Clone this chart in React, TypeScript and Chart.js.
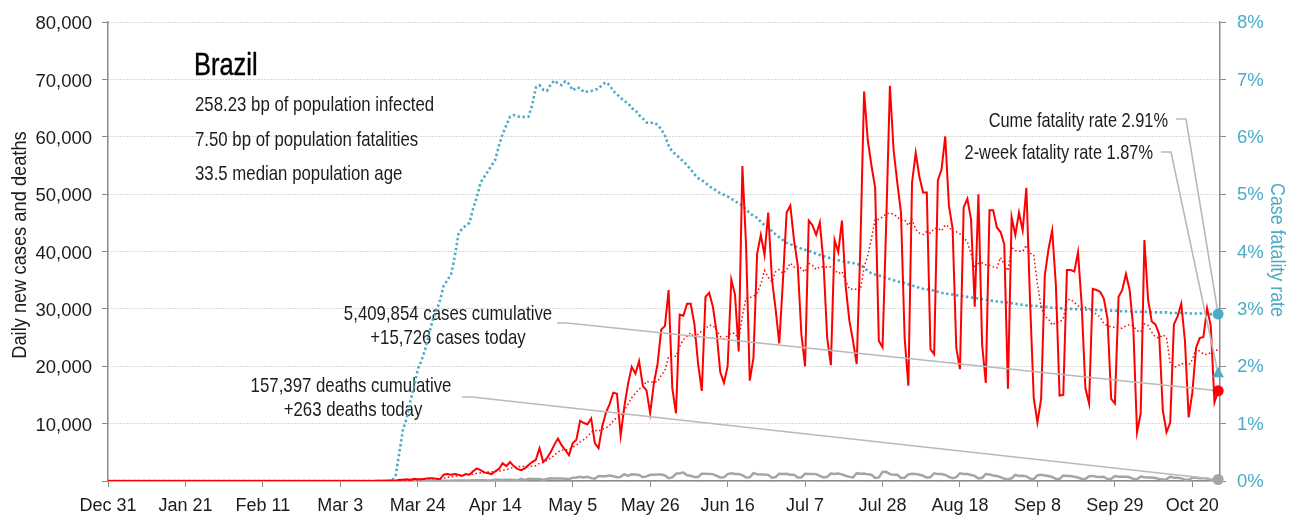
import React, { useEffect, useRef } from 'react';
import { Chart, registerables } from 'chart.js';

Chart.register(...registerables);

const FONT = "'Liberation Sans', Arial, sans-serif";
const RED = '#ff0000';
const CYAN = '#4bacc6';
const GRAY = '#a5a5a5';
const AXIS = '#8a8a8a';
const TEXT = '#1c1c1c';
const LEADER = '#b9b9b9';

// ---- data (day index 0 = Dec 31) ----
const xTickDays = [0, 21, 42, 63, 84, 105, 126, 147, 168, 189, 210, 231, 252, 273, 294];
const xTickLabels = ['Dec 31', 'Jan 21', 'Feb 11', 'Mar 3', 'Mar 24', 'Apr 14', 'May 5', 'May 26', 'Jun 16', 'Jul 7', 'Jul 28', 'Aug 18', 'Sep 8', 'Sep 29', 'Oct 20'];
const lastDay = 301;

// daily new cases, thousands
const dailyCasesK = [
  0, 0, 0, 0, 0, 0, 0, 0, 0, 0,
  0, 0, 0, 0, 0, 0, 0, 0, 0, 0,
  0, 0, 0, 0, 0, 0, 0, 0, 0, 0,
  0, 0, 0, 0, 0, 0, 0, 0, 0, 0,
  0, 0, 0, 0, 0, 0, 0, 0, 0, 0,
  0, 0, 0, 0, 0, 0, 0, 0, 0, 0,
  0, 0, 0, 0, 0, 0, 0, 0, 0, 0,
  0,
  0.01, 0.02, 0.03, 0.04, 0.05, 0.08, 0.10,
  0.06, 0.2, 0.2, 0.3, 0.2, 0.4, 0.3,
  0.3, 0.4, 0.5, 0.5, 0.4, 0.3, 1.1,
  1.2, 1.1, 1.2, 1.1, 0.9, 1.2, 1.1,
  1.7, 2.2, 1.9, 1.5, 1.4, 1.2, 1.7,
  2.1, 3.1, 2.6, 3.3, 2.6, 2.1, 1.9,
  2.2, 2.8, 3.3, 3.7, 5.7, 3.3, 4.0,
  5.0, 6.3, 7.4, 6.2, 5.4, 4.5, 6.6,
  7.2, 10.5, 10.1, 9.9, 10.9, 6.6, 5.7,
  9.5, 11.9, 13.4, 15.4, 15.2, 7.9, 13.0,
  16.9, 19.9, 18.7, 20.9, 16.6, 15.8, 11.8,
  17.0, 20.4, 26.4, 27.0, 33.3, 16.2, 11.8,
  29.0, 28.8, 30.9, 30.9, 27.3, 20.4, 15.7,
  32.1, 32.8, 30.4, 26.0, 19.0, 17.1, 20.0,
  35.1, 32.5, 22.6, 54.9, 41.1, 17.5, 21.4,
  39.6, 42.9, 39.4, 46.8, 35.3, 30.0, 24.0,
  35.0, 46.8, 48.0, 42.0, 37.7, 25.6, 20.0,
  45.4, 44.6, 42.9, 45.1, 38.0, 24.9, 20.2,
  42.0, 39.9, 45.4, 34.0, 28.0, 24.4, 20.4,
  41.0, 67.9, 59.4, 55.0, 51.1, 24.4, 23.3,
  45.0, 68.9, 57.7, 52.0, 46.8, 24.9, 16.6,
  52.0, 57.2, 53.0, 50.3, 50.3, 23.0, 22.1,
  52.4, 54.3, 60.1, 48.0, 44.0, 23.2, 19.5,
  47.7, 49.2, 45.6, 30.4, 50.0, 23.8, 17.1,
  47.2, 47.2, 44.2, 43.4, 41.3, 16.1, 46.0,
  42.9, 46.8, 43.7, 51.1, 31.3, 14.5, 10.2,
  14.3, 35.9, 40.4, 43.7, 34.2, 14.9, 15.0,
  36.8, 36.8, 36.5, 39.9, 30.7, 16.2, 13.5,
  33.5, 33.3, 33.0, 31.8, 28.3, 14.3, 13.5,
  32.1, 33.3, 36.1, 33.3, 26.6, 8.5, 11.8,
  42.0, 31.6, 27.8, 27.3, 25.6, 12.3, 8.5,
  10.2, 27.3, 28.7, 30.9, 24.4, 11.1, 15.4,
  23.2, 24.9, 25.1, 30.1, 27.0, 13.7, 15.726,
];

// daily new deaths, thousands
const dailyDeathsK = [
  0, 0, 0, 0, 0, 0, 0, 0, 0, 0,
  0, 0, 0, 0, 0, 0, 0, 0, 0, 0,
  0, 0, 0, 0, 0, 0, 0, 0, 0, 0,
  0, 0, 0, 0, 0, 0, 0, 0, 0, 0,
  0, 0, 0, 0, 0, 0, 0, 0, 0, 0,
  0, 0, 0, 0, 0, 0, 0, 0, 0, 0,
  0, 0, 0, 0, 0, 0, 0, 0, 0, 0,
  0, 0, 0, 0, 0, 0, 0, 0,
  0.001, 0.003, 0.004, 0.007, 0.007, 0.011, 0.009,
  0.012, 0.019, 0.025, 0.023, 0.022, 0.025, 0.042,
  0.040, 0.058, 0.072, 0.070, 0.080, 0.070, 0.090,
  0.130, 0.130, 0.140, 0.120, 0.100, 0.120, 0.200,
  0.200, 0.190, 0.220, 0.210, 0.190, 0.120, 0.380,
  0.160, 0.400, 0.360, 0.360, 0.350, 0.190, 0.340,
  0.470, 0.450, 0.430, 0.430, 0.390, 0.330, 0.580,
  0.600, 0.750, 0.620, 0.730, 0.500, 0.400, 0.880,
  0.810, 0.820, 0.970, 0.820, 0.650, 0.720, 1.180,
  0.890, 1.190, 1.150, 1.040, 0.650, 0.810, 1.080,
  1.100, 1.130, 1.120, 0.960, 0.480, 0.620, 1.260,
  1.350, 1.470, 1.000, 0.900, 0.680, 0.680, 1.270,
  1.280, 1.240, 1.200, 0.900, 0.610, 0.630, 1.200,
  1.340, 1.210, 1.200, 1.020, 0.600, 0.650, 1.370,
  1.180, 1.140, 1.130, 1.070, 0.580, 0.690, 1.280,
  1.240, 1.270, 1.090, 1.070, 0.600, 0.620, 1.250,
  1.220, 1.220, 1.200, 0.890, 0.630, 0.730, 1.300,
  1.230, 1.320, 1.160, 0.920, 0.720, 0.630, 1.370,
  1.280, 1.310, 1.160, 1.100, 0.550, 0.630, 1.590,
  1.600, 1.200, 1.090, 1.090, 0.540, 0.560, 1.150,
  1.250, 1.240, 1.080, 0.910, 0.580, 0.680, 1.350,
  1.200, 1.200, 1.060, 0.710, 0.490, 0.680, 1.350,
  1.210, 1.200, 1.040, 0.890, 0.430, 0.550, 1.220,
  1.130, 0.970, 0.860, 0.680, 0.380, 0.310, 0.470,
  1.080, 0.890, 0.900, 0.810, 0.410, 0.320, 0.980,
  1.100, 0.950, 0.860, 0.700, 0.380, 0.370, 0.960,
  0.860, 0.860, 0.740, 0.610, 0.360, 0.340, 0.830,
  0.890, 0.730, 0.700, 0.730, 0.310, 0.380, 0.860,
  0.740, 0.730, 0.720, 0.650, 0.340, 0.300, 0.780,
  0.670, 0.630, 0.590, 0.510, 0.340, 0.260, 0.310,
  0.750, 0.560, 0.560, 0.460, 0.230, 0.200, 0.570,
  0.570, 0.500, 0.500, 0.430, 0.200, 0.230, 0.263,
];

// cumulative case fatality rate, percent
const caseFatalityPct = [
  0, 0, 0, 0, 0, 0, 0, 0, 0, 0,
  0, 0, 0, 0, 0, 0, 0, 0, 0, 0,
  0, 0, 0, 0, 0, 0, 0, 0, 0, 0,
  0, 0, 0, 0, 0, 0, 0, 0, 0, 0,
  0, 0, 0, 0, 0, 0, 0, 0, 0, 0,
  0, 0, 0, 0, 0, 0, 0, 0, 0, 0,
  0, 0, 0, 0, 0, 0, 0, 0, 0, 0,
  0, 0, 0, 0, 0, 0, 0, 0,
  0.1, 0.5, 0.9, 1.1, 1.4, 1.65, 1.95,
  2.1, 2.3, 2.55, 2.8, 2.95, 3.15, 3.4,
  3.5, 3.6, 3.9, 4.3, 4.4, 4.45, 4.5,
  4.75, 4.95, 5.2, 5.3, 5.4, 5.5, 5.6,
  5.85, 6.05, 6.2, 6.35, 6.38, 6.36, 6.34,
  6.35, 6.35, 6.55, 6.86, 6.9, 6.82, 6.8,
  6.91, 6.98, 6.93, 6.9, 6.97, 6.92, 6.81,
  6.86, 6.85, 6.78, 6.79, 6.8, 6.82, 6.84,
  6.91, 6.95, 6.9, 6.8, 6.74, 6.68, 6.62,
  6.59, 6.5, 6.46, 6.38, 6.32, 6.25, 6.24,
  6.25, 6.21, 6.13, 6.02, 5.85, 5.74, 5.69,
  5.63, 5.57, 5.51, 5.43, 5.35, 5.28, 5.24,
  5.2, 5.14, 5.1, 5.06, 5.02, 4.99, 4.96,
  4.92, 4.88, 4.84, 4.8, 4.73, 4.67, 4.62,
  4.59, 4.52, 4.46, 4.4, 4.36, 4.3, 4.25,
  4.2, 4.15, 4.13, 4.1, 4.07, 4.05, 4.03,
  4.01, 3.99, 3.96, 3.94, 3.92, 3.9, 3.88,
  3.86, 3.85, 3.83, 3.82, 3.81, 3.8, 3.78,
  3.77, 3.72, 3.66, 3.62, 3.6, 3.58, 3.57,
  3.55, 3.52, 3.5, 3.48, 3.46, 3.45, 3.43,
  3.41, 3.39, 3.37, 3.35, 3.34, 3.33, 3.32,
  3.3, 3.28, 3.27, 3.26, 3.25, 3.24, 3.23,
  3.22, 3.21, 3.2, 3.19, 3.18, 3.17, 3.16,
  3.15, 3.14, 3.13, 3.12, 3.12, 3.11, 3.1,
  3.09, 3.08, 3.07, 3.06, 3.06, 3.05, 3.05,
  3.04, 3.04, 3.03, 3.02, 3.02, 3.01, 3.01,
  3.0, 3.0, 3.0, 2.99, 2.99, 2.99, 2.98,
  2.98, 2.98, 2.98, 2.97, 2.97, 2.97, 2.97,
  2.96, 2.96, 2.96, 2.96, 2.95, 2.95, 2.95,
  2.95, 2.95, 2.94, 2.94, 2.94, 2.94, 2.94,
  2.93, 2.93, 2.93, 2.93, 2.93, 2.92, 2.92,
  2.92, 2.92, 2.92, 2.91, 2.91, 2.91, 2.91,
];

const countryName = 'Brazil';
const infoLines = ['258.23 bp of population infected', '7.50 bp of population fatalities', '33.5 median population age'];
const cumulativeCases = 5409854;
const casesToday = 15726;
const cumulativeDeaths = 157397;
const deathsToday = 263;
const cumeFatalityRate = 2.91;
const twoWeekFatalityRate = 1.87;

function trailingMean(values: number[], windowSize: number): number[] {
  return values.map((_, i) => {
    const start = Math.max(0, i - windowSize + 1);
    let sum = 0;
    for (let j = start; j <= i; j++) sum += values[j];
    return sum / (i - start + 1);
  });
}

const toPoints = (arr: number[], scale: number) => arr.map((v, i) => ({ x: i, y: v * scale }));

const fmt = (n: number) => n.toLocaleString('en-US');

// condensed text: draw with horizontal compression
function condensedText(
  ctx: CanvasRenderingContext2D,
  text: string,
  x: number,
  y: number,
  size: number,
  align: CanvasTextAlign,
  squeeze: number,
  color: string,
  rotation = 0,
  baseline: CanvasTextBaseline = 'alphabetic',
  strokeWidth = 0,
) {
  ctx.save();
  ctx.translate(x, y);
  if (rotation) ctx.rotate(rotation);
  ctx.scale(squeeze, 1);
  ctx.font = `${size}px ${FONT}`;
  ctx.fillStyle = color;
  ctx.textAlign = align;
  ctx.textBaseline = baseline;
  ctx.fillText(text, 0, 0);
  if (strokeWidth > 0) {
    ctx.strokeStyle = color;
    ctx.lineWidth = strokeWidth;
    ctx.lineJoin = 'round';
    ctx.strokeText(text, 0, 0);
  }
  ctx.restore();
}

const annotationPlugin = {
  id: 'covidAnnotations',
  beforeDatasetsDraw(chart: any) {
    const ctx = chart.ctx as CanvasRenderingContext2D;
    const k = 0.8;
    condensedText(ctx, countryName, 194, 75, 31, 'left', 0.82, '#000', 0, 'alphabetic', 0.45);
    const infoBaselines = [111, 146, 180];
    infoLines.forEach((t, i) => condensedText(ctx, t, 195, infoBaselines[i], 21, 'left', k, TEXT));

    condensedText(ctx, `Cume fatality rate ${cumeFatalityRate.toFixed(2)}%`, 1168, 127, 21, 'right', 0.78, TEXT);
    condensedText(ctx, `2-week fatality rate ${twoWeekFatalityRate.toFixed(2)}%`, 1153, 159, 21, 'right', 0.78, TEXT);

    condensedText(ctx, `${fmt(cumulativeCases)} cases cumulative`, 448, 320, 21, 'center', k, TEXT);
    condensedText(ctx, `+${fmt(casesToday)} cases today`, 448, 344, 21, 'center', k, TEXT);
    condensedText(ctx, `${fmt(cumulativeDeaths)} deaths cumulative`, 351, 392, 21, 'center', k, TEXT);
    condensedText(ctx, `+${fmt(deathsToday)} deaths today`, 353, 416, 21, 'center', k, TEXT);

    // axis titles
    condensedText(ctx, 'Daily new cases and deaths', 20, 245, 21, 'center', 0.87, TEXT, -Math.PI / 2, 'middle');
    condensedText(ctx, 'Case fatality rate', 1277, 250, 21, 'center', 0.85, CYAN, Math.PI / 2, 'middle');
  },
  afterDatasetDraw(chart: any, args: any) {
    if (args.index !== 0) return;
    const ctx = chart.ctx as CanvasRenderingContext2D;
    const xs = chart.scales.x;
    const y = chart.scales.y;
    const y1 = chart.scales.y1;
    const px = xs.getPixelForValue(lastDay);
    ctx.save();
    ctx.strokeStyle = LEADER;
    ctx.lineWidth = 1.6;
    const leader = (sx: number, sy: number, ex: number, ey: number) => {
      ctx.beginPath();
      ctx.moveTo(sx, sy);
      ctx.lineTo(sx + 10, sy);
      ctx.lineTo(ex, ey);
      ctx.stroke();
    };
    leader(1176, 119, px, y1.getPixelForValue(cumeFatalityRate));
    leader(1161, 152, px, y1.getPixelForValue(twoWeekFatalityRate));
    leader(557, 323, px, y.getPixelForValue(casesToday));
    leader(462, 397, px, y.getPixelForValue(deathsToday));
    ctx.restore();
  },
};

export default function App() {
  const ref = useRef<HTMLCanvasElement>(null);

  useEffect(() => {
    document.body.style.margin = '0';
    const canvas = ref.current;
    if (!canvas) return;

    const casesMA = trailingMean(dailyCasesK, 7);

    const chart = new Chart(canvas, {
      type: 'line',
      data: {
        datasets: [
          {
            label: 'Daily new cases',
            data: toPoints(dailyCasesK, 1000),
            borderColor: RED,
            borderWidth: 2,
            pointRadius: 0,
            yAxisID: 'y',
            order: 2,
          },
          {
            label: 'Cases 7-day average',
            data: toPoints(casesMA, 1000),
            borderColor: RED,
            borderWidth: 1.5,
            borderDash: [1.5, 2.5],
            pointRadius: 0,
            yAxisID: 'y',
            order: 3,
          },
          {
            label: 'Daily new deaths',
            data: toPoints(dailyDeathsK, 1000),
            borderColor: GRAY,
            borderWidth: 2.5,
            pointRadius: 0,
            yAxisID: 'y',
            order: 4,
          },
          {
            label: 'Case fatality rate',
            data: toPoints(caseFatalityPct, 1),
            borderColor: CYAN,
            borderWidth: 2.6,
            borderDash: [2.4, 2.6],
            pointRadius: 0,
            yAxisID: 'y1',
            order: 5,
          },
          {
            label: 'Cases today',
            data: [{ x: lastDay, y: casesToday }],
            showLine: false,
            pointRadius: 5.5,
            pointStyle: 'circle',
            backgroundColor: RED,
            borderColor: RED,
            borderWidth: 0,
            yAxisID: 'y',
            clip: false,
            order: 0,
          },
          {
            label: 'Deaths today',
            data: [{ x: lastDay, y: deathsToday }],
            showLine: false,
            pointRadius: 5.5,
            pointStyle: 'circle',
            backgroundColor: GRAY,
            borderColor: GRAY,
            borderWidth: 0,
            yAxisID: 'y',
            clip: false,
            order: 0,
          },
          {
            label: 'Cume fatality rate',
            data: [{ x: lastDay, y: cumeFatalityRate }],
            showLine: false,
            pointRadius: 5.5,
            pointStyle: 'circle',
            backgroundColor: CYAN,
            borderColor: CYAN,
            borderWidth: 0,
            yAxisID: 'y1',
            clip: false,
            order: 0,
          },
          {
            label: '2-week fatality rate',
            data: [{ x: lastDay, y: twoWeekFatalityRate }],
            showLine: false,
            pointRadius: 6.8,
            pointStyle: 'triangle',
            backgroundColor: CYAN,
            borderColor: CYAN,
            borderWidth: 0,
            yAxisID: 'y1',
            clip: false,
            order: 0,
          },
        ] as any,
      },
      options: {
        responsive: false,
        animation: false,
        devicePixelRatio: 1,
        events: [],
        layout: { padding: { top: 18, left: 0, right: 0, bottom: 0 } },
        plugins: { legend: { display: false }, tooltip: { enabled: false } },
        font: { family: FONT },
        scales: {
          x: {
            type: 'linear',
            min: 0,
            max: lastDay + 0.5,
            afterFit: (s: any) => { s.height = 39; },
            afterBuildTicks: (s: any) => { s.ticks = xTickDays.map((v) => ({ value: v })); },
            grid: { drawOnChartArea: false, drawTicks: true, tickLength: 6, tickColor: AXIS, color: AXIS },
            border: { display: true, color: AXIS, width: 1.5 },
            ticks: {
              autoSkip: false,
              maxRotation: 0,
              padding: 8,
              color: TEXT,
              font: { family: FONT, size: 18 },
              callback: (v: any) => {
                const i = xTickDays.indexOf(Number(v));
                return i >= 0 ? xTickLabels[i] : '';
              },
            },
          },
          y: {
            type: 'linear',
            position: 'left',
            min: 0,
            max: 80000,
            afterFit: (s: any) => { s.width = 108; },
            grid: { color: '#b2b2b2', lineWidth: 1, tickLength: 6, tickColor: AXIS, drawTicks: true },
            border: { display: true, color: AXIS, width: 1.5, dash: [1, 2] },
            ticks: {
              stepSize: 10000,
              padding: 10,
              labelOffset: 2,
              color: TEXT,
              font: { family: FONT, size: 18.5 },
              callback: (v: any) => (Number(v) === 0 ? '' : fmt(Number(v))),
            },
          },
          y1: {
            type: 'linear',
            position: 'right',
            min: 0,
            max: 8,
            afterFit: (s: any) => { s.width = 95; },
            grid: { drawOnChartArea: false, tickLength: 6, tickColor: AXIS, drawTicks: true },
            border: { display: true, color: AXIS, width: 1.5 },
            ticks: {
              stepSize: 1,
              padding: 11,
              labelOffset: 1,
              color: CYAN,
              font: { family: FONT, size: 18.5 },
              callback: (v: any) => `${v}%`,
            },
          },
        },
      } as any,
      plugins: [annotationPlugin],
    });

    return () => chart.destroy();
  }, []);

  return (
    <div style={{ width: 1315, height: 520, background: '#fff' }}>
      <canvas ref={ref} width={1315} height={520} style={{ display: 'block', width: 1315, height: 520 }} />
    </div>
  );
}
